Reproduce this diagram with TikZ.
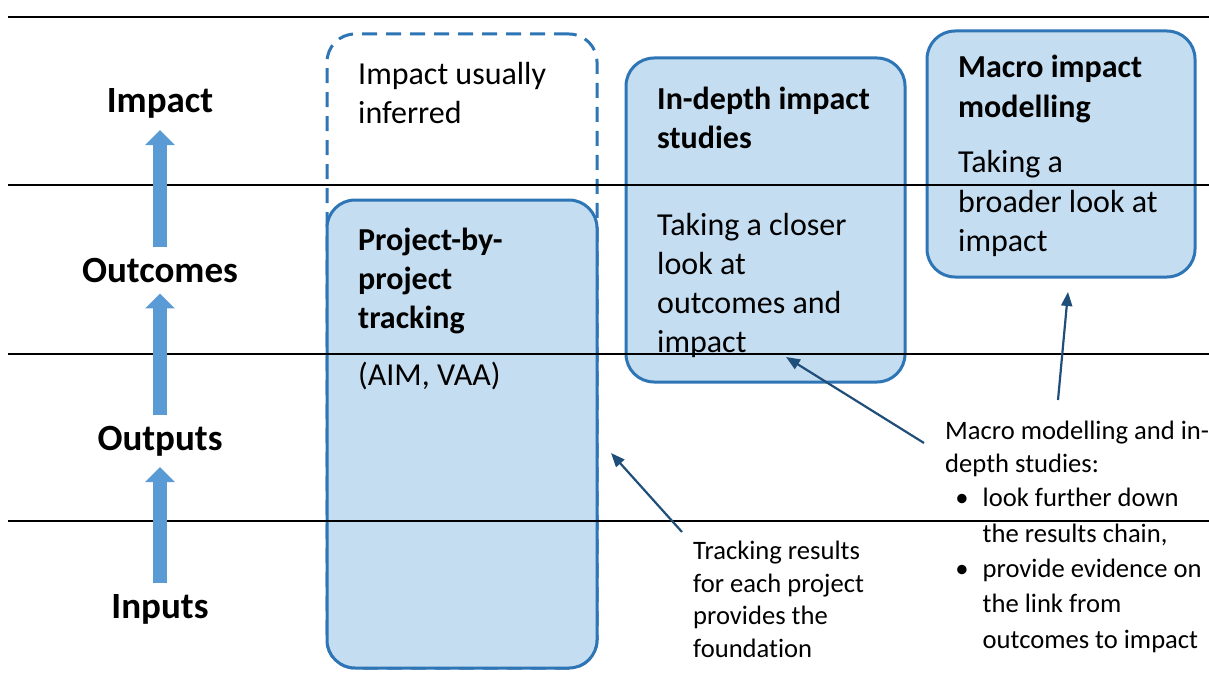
\documentclass[tikz,border=0pt]{standalone}
\usepackage{fontspec}
\setmainfont{Carlito}[Ligatures=NoCommon]
\usetikzlibrary{arrows.meta}

\begin{document}
\begin{tikzpicture}[x=1pt, y=-1pt,
        box/.style={draw=boxline, fill=boxfill, line width=3pt, rounded corners=28pt},
        lvl/.style={font=\fontsize{37}{44}\selectfont\bfseries, inner sep=11pt, anchor=base},
        txt/.style={font=\fontsize{32}{39}\selectfont, inner sep=0pt, anchor=base west, align=left},
        note/.style={font=\fontsize{26.6}{32.5}\selectfont, inner sep=0pt, anchor=base west, align=left},
        bigarrow/.style={draw=upblue, line width=14pt, -{Triangle[width=29pt,length=15pt]}},
        pointer/.style={draw=arrowblue, line width=2.2pt, -{Triangle[width=11pt,length=14pt]}}]
        % Define colors
        \definecolor{boxline}{RGB}{46, 117, 182}
        \definecolor{boxfill}{RGB}{197, 221, 240}
        \definecolor{upblue}{RGB}{91, 155, 213}
        \definecolor{arrowblue}{RGB}{31, 78, 121}

        \useasboundingbox (0,0) rectangle (1209,679);

        % --- PROJECT-BY-PROJECT TRACKING ---
        \node[box, fill=none, dash pattern=on 15pt off 9pt, minimum width=270pt, minimum height=634pt] (inferbox) at (462,351) {};
        \node[box, minimum width=270pt, minimum height=468pt] (trackbox) at (462,434) {};
        % (base = last line)
        \node[txt] (infertxt) at (358,124) {Impact usually\\inferred};
        \node[txt] (tracktxt) at (358,385) {\textbf{Project-by-}\\\textbf{project}\\\textbf{tracking}\\[18pt](AIM, VAA)};

        % --- IN-DEPTH STUDIES ---
        \node[box, minimum width=279pt, minimum height=324pt] (deepbox) at (765.5,220) {};
        \node[txt] (deeptxt) at (657,352) {\textbf{In-depth impact}\\\textbf{studies}\\[48pt]Taking a closer\\look at\\outcomes and\\impact};

        % --- MACRO MODELLING ---
        \node[box, minimum width=268pt, minimum height=246pt] (macrobox) at (1061,154) {};
        \node[txt] (macrotxt) at (958,251) {\textbf{Macro impact}\\\textbf{modelling}\\[17pt]Taking a\\broader look at\\impact};

        % Level lines
        \foreach \y in {17, 185, 354, 521} \draw[black, line width=2pt] (8,\y) -- (1209,\y);

        % --- RESULTS CHAIN ---
        \node[lvl] (impact) at (160,113) {Impact};
        \node[lvl] (outcomes) at (160,282) {Outcomes};
        \node[lvl] (outputs) at (160,450) {Outputs};
        \node[lvl] (inputs) at (160,618) {Inputs};
        \foreach \a/\b in {outcomes/impact, outputs/outcomes, inputs/outputs} \draw[bigarrow] (\a) -- (\b);

        % --- NOTES ---
        \node[note] (tracknote) at (693,657) {Tracking results\\for each project\\provides the\\foundation};
        \node[note] (macronote) at (945,472) {Macro modelling and in-\\depth studies:};
        \node[note, font=\fontsize{26.6}{35.3}\selectfont] (bullets) at (982.5,648) {\llap{\textbullet\hspace{14pt}}look further down\\the results chain,\\\llap{\textbullet\hspace{14pt}}provide evidence on\\the link from\\outcomes to impact};

        \coordinate (tracktail) at (682,532);
        \coordinate (tracktip) at (611,453);
        \coordinate (deeptail) at (924,443);
        \coordinate (deeptip) at (786,357);
        \coordinate (macrotail) at (1058,400);
        \coordinate (macrotip) at (1068,292);
        \draw[pointer] (tracktail) -- (tracktip);
        \draw[pointer] (deeptail) -- (deeptip);
        \draw[pointer] (macrotail) -- (macrotip);

    \end{tikzpicture}
\end{document}
